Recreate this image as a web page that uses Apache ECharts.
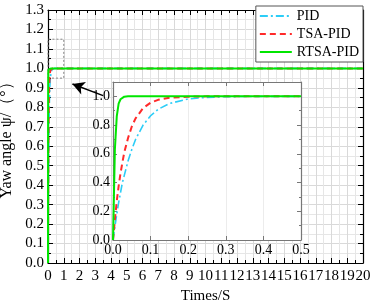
<!DOCTYPE html>
<html><head><meta charset="utf-8">
<script src="https://cdn.jsdelivr.net/npm/echarts@6/dist/echarts.min.js"></script>
<style>html,body{margin:0;padding:0;background:#fff}#c{width:374px;height:305px}</style>
</head><body><div id="c"></div>
<script>
// time samples (s) for the step responses
const tStep = [0, 0.005, 0.01, 0.015, 0.02, 0.025, 0.03, 0.04, 0.05, 0.06, 0.08, 0.1, 0.12, 0.15, 0.2, 0.25, 0.3, 0.4, 0.5];
const pid     = [0, 0.09, 0.18, 0.26, 0.33, 0.40, 0.45, 0.55, 0.63, 0.70, 0.80, 0.865, 0.91, 0.95, 0.982, 0.993, 0.998, 1.0, 1.0];
const tsaPid  = [0, 0.14, 0.27, 0.375, 0.465, 0.54, 0.61, 0.71, 0.79, 0.847, 0.918, 0.956, 0.976, 0.99, 0.998, 1.0, 1.0, 1.0, 1.0];
const rtsaPid = [0, 0.63, 0.86, 0.95, 0.98, 0.993, 0.998, 1.0, 1.0, 1.0, 1.0, 1.0, 1.0, 1.0, 1.0, 1.0, 1.0, 1.0, 1.0];
// remaining time (steady state)
const tTail = [1, 2, 5, 10, 15, 20];
const pidTail = [1, 1, 1, 1, 1, 1];
const tsaTail = [1, 1, 1, 1, 1, 1];
const rtsaTail = [1, 1, 1, 1, 1, 1];
const names = ['PID', 'TSA-PID', 'RTSA-PID'];
const colors = ['#2ccdf7', '#ff2a2a', '#00e600'];

const zip = (t, v) => t.map((x, i) => [x, v[i]]);
const mainData = [
  zip(tStep.concat(tTail), pid.concat(pidTail)),
  zip(tStep.concat(tTail), tsaPid.concat(tsaTail)),
  zip(tStep.concat(tTail), rtsaPid.concat(rtsaTail))
];
const insetData = [zip(tStep, pid), zip(tStep, tsaPid), zip(tStep, rtsaPid)];
const lineStyles = [
  {type: [8, 3, 2, 3], width: 1.6},
  {type: [6, 4], width: 2},
  {type: 'solid', width: 2}
];
const font = 'Liberation Serif';
const chart = echarts.init(document.getElementById('c'));

const series = [];
for (let i = 0; i < 3; i++) {
  series.push({
    name: names[i], type: 'line', xAxisIndex: 0, yAxisIndex: 0, data: mainData[i],
    symbol: 'none', color: colors[i], lineStyle: Object.assign({color: colors[i]}, lineStyles[i]),
    z: 3 + i, silent: true
  });
}
for (let i = 0; i < 3; i++) {
  series.push({
    name: names[i], type: 'line', xAxisIndex: 2, yAxisIndex: 2, data: insetData[i],
    symbol: 'none', color: colors[i], lineStyle: Object.assign({color: colors[i]}, lineStyles[i]),
    z: 13 + i, silent: true
  });
}
// zoom box and arrow annotations on main axes
series[0].markArea = {
  silent: true,
  itemStyle: {color: 'rgba(0,0,0,0)', borderColor: '#888', borderWidth: 1, borderType: [2, 2]},
  data: [[{coord: [-0.3, 0.95]}, {coord: [1.0, 1.15]}]]
};
series[0].clip = false;
series[1].markLine = {
  silent: true, symbol: ['none', 'arrow'], symbolSize: [10, 12],
  lineStyle: {color: '#000', width: 1.5, type: 'solid'}, label: {show: false},
  data: [[{coord: [3.5, 0.86]}, {coord: [1.55, 0.92]}]]
};

const mainAxisCommon = {
  axisLine: {onZero: false, lineStyle: {color: '#000', width: 1.2}},
  axisTick: {inside: true, length: 5, lineStyle: {color: '#000'}},
  minorTick: {show: true, splitNumber: 2, length: 3, lineStyle: {color: '#000'}},
  splitLine: {show: true, lineStyle: {color: '#d9d9d9', width: 1}},
  minorSplitLine: {show: true, lineStyle: {color: '#e6e6e6', width: 1}}
};
const insetAxisLine = {onZero: false, lineStyle: {color: '#777', width: 1.2}};
const insetTick = {inside: true, length: 4, lineStyle: {color: '#777'}};

chart.setOption({
  animation: false,
  backgroundColor: '#fff',
  textStyle: {fontFamily: font},
  grid: [
    {left: 48, right: 11, top: 10, bottom: 42, containLabel: false, outerBoundsMode: 'none'},
    {left: 113, top: 82, width: 188, height: 158, backgroundColor: '#fff', show: true, borderWidth: 0, z: 10, containLabel: false, outerBoundsMode: 'none'}
  ],
  legend: {
    data: names, right: 11, top: 6, orient: 'vertical', itemGap: 4,
    itemWidth: 32, itemHeight: 14, padding: [3, 4, 3, 3],
    backgroundColor: '#fff', borderColor: '#555', borderWidth: 1, borderRadius: 0,
    itemStyle: {opacity: 0},
    textStyle: {fontFamily: font, fontSize: 14, color: '#000'}
  },
  xAxis: [
    Object.assign({}, mainAxisCommon, {
      type: 'value', gridIndex: 0, min: 0, max: 20, interval: 1,
      name: 'Times/S', nameLocation: 'middle', nameGap: 26,
      nameTextStyle: {fontFamily: font, fontSize: 15, color: '#000'},
      axisLabel: {fontFamily: font, fontSize: 15, color: '#000', margin: 6}
    }),
    Object.assign({}, mainAxisCommon, {
      type: 'value', gridIndex: 0, min: 0, max: 20, interval: 1, position: 'top',
      axisLabel: {show: false}, splitLine: {show: false}, minorSplitLine: {show: false}
    }),
    {
      type: 'value', gridIndex: 1, min: 0, max: 0.5, interval: 0.1, z: 12,
      axisLine: insetAxisLine, axisTick: insetTick,
      splitLine: {show: true, lineStyle: {color: '#ececec'}},
      axisLabel: {fontFamily: font, fontSize: 14, color: '#000', margin: 3, formatter: v => v.toFixed(1)}
    },
    {
      type: 'value', gridIndex: 1, min: 0, max: 0.5, interval: 0.1, position: 'top', z: 12,
      axisLine: insetAxisLine, axisTick: insetTick,
      axisLabel: {show: false}, splitLine: {show: false}
    }
  ],
  yAxis: [
    Object.assign({}, mainAxisCommon, {
      type: 'value', gridIndex: 0, min: 0, max: 1.3, interval: 0.1,
      name: 'Yaw angle ψ/（°）', nameLocation: 'middle', nameGap: 30,
      nameTextStyle: {fontFamily: font, fontSize: 16, color: '#000'},
      axisLabel: {fontFamily: font, fontSize: 15, color: '#000', margin: 4, formatter: v => v.toFixed(1)}
    }),
    Object.assign({}, mainAxisCommon, {
      type: 'value', gridIndex: 0, min: 0, max: 1.3, interval: 0.1, position: 'right',
      axisLabel: {show: false}, splitLine: {show: false}, minorSplitLine: {show: false}
    }),
    {
      type: 'value', gridIndex: 1, min: 0, max: 1.1, interval: 0.2, z: 12,
      axisLine: insetAxisLine, axisTick: insetTick,
      minorTick: {show: true, splitNumber: 2, length: 2, lineStyle: {color: '#777'}},
      splitLine: {show: false},
      axisLabel: {fontFamily: font, fontSize: 14, color: '#000', margin: 3, showMaxLabel: false, formatter: v => v.toFixed(1)}
    },
    {
      type: 'value', gridIndex: 1, min: 0, max: 1.1, interval: 0.2, position: 'right', z: 12,
      axisLine: insetAxisLine, axisTick: insetTick,
      minorTick: {show: true, splitNumber: 2, length: 2, lineStyle: {color: '#777'}},
      axisLabel: {show: false}, splitLine: {show: false}
    }
  ],
  series: series
});
</script></body></html>
